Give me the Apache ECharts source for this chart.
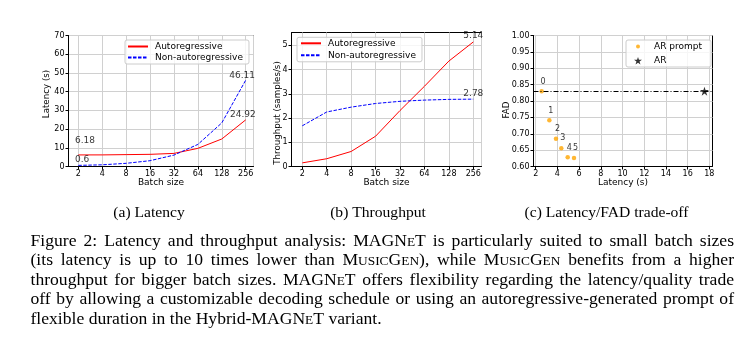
<!DOCTYPE html>
<html>
<head>
<meta charset="utf-8">
<script src="https://cdn.jsdelivr.net/npm/echarts@6.0.0/dist/echarts.min.js"></script>
<style>
html,body{margin:0;padding:0;background:#fff;}
#chart{width:755px;height:348px;}
</style>
</head>
<body>
<div id="chart"></div>
<script>
// ---------------- data ----------------
const batchSizes = [2, 4, 8, 16, 32, 64, 128, 256];
const latencyAR = [6.18, 6.2, 6.35, 6.5, 7.0, 9.7, 14.7, 24.92];
const latencyNAR = [0.6, 0.9, 1.7, 3.1, 6.1, 11.8, 23.3, 46.11];
const throughputAR = [0.15, 0.32, 0.62, 1.25, 2.31, 3.31, 4.35, 5.14];
const throughputNAR = [1.68, 2.25, 2.45, 2.6, 2.69, 2.74, 2.77, 2.78];
const promptLatency = [2.55, 3.26, 3.87, 4.36, 4.95, 5.53];
const promptFAD = [0.830, 0.741, 0.685, 0.656, 0.628, 0.626];
const promptLabels = ['0', '1', '2', '3', '4', '5'];
const arLatency = [17.55];
const arFAD = [0.83];
const fadReference = 0.83;
const seriesNames = ['Autoregressive', 'Non-autoregressive'];
const promptNames = ['AR prompt', 'AR'];
const yTitles = ['Latency (s)', 'Throughput (samples/s)', 'FAD'];
const xTitles = ['Batch size', 'Batch size', 'Latency (s)'];
const subCaptions = ['(a) Latency', '(b) Throughput', '(c) Latency/FAD trade-off'];
const captionLines = [
  'Figure 2: Latency and throughput analysis: MAGN{sc|E}T is particularly suited to small batch sizes',
  '(its latency is up to 10 times lower than M{sc|USIC}G{sc|EN}), while M{sc|USIC}G{sc|EN} benefits from a higher',
  'throughput for bigger batch sizes. MAGN{sc|E}T offers flexibility regarding the latency/quality trade',
  'off by allowing a customizable decoding schedule or using an autoregressive-generated prompt of',
  'flexible duration in the Hybrid-MAGN{sc|E}T variant.'
];

// ---------------- styles ----------------
const SANS = 'DejaVu Sans';
const SERIF = 'Liberation Serif';
const tickFont = {fontFamily: SANS, fontSize: 8, color: '#000'};
const nameFont = {fontFamily: SANS, fontSize: 9, color: '#000'};
const gridLine = {show: true, lineStyle: {color: '#d0d0d0', width: 1}};
const starPath = 'path://M50,0 L61.2,34.5 L97.6,34.5 L68.2,55.9 L79.4,90.5 L50,69.1 L20.6,90.5 L31.8,55.9 L2.4,34.5 L38.8,34.5 Z';

function baseAxis(extra) {
  return Object.assign({
    axisLine: {show: true, onZero: false, lineStyle: {color: '#000', width: 1}},
    axisTick: {show: true, inside: false, length: 3, lineStyle: {color: '#000', width: 1}},
    splitLine: gridLine,
    nameLocation: 'middle',
    nameTextStyle: nameFont
  }, extra);
}
function logBatchAxis(gi, lo, hi) {
  return baseAxis({
    type: 'log', logBase: 2, gridIndex: gi,
    min: Math.pow(2, lo), max: Math.pow(2, hi),
    axisLabel: Object.assign({margin: 3, showMinLabel: false, showMaxLabel: false}, tickFont),
    name: xTitles[gi], nameGap: 12
  });
}

const pairs = (xs, ys) => xs.map((x, i) => [x, ys[i]]);

function annotation(x, y, dx, dy) {
  return {
    value: [x, y],
    label: {show: true, position: [dx + 0.5, dy + 0.5], align: 'left', verticalAlign: 'middle'}
  };
}

function lineSeries(gi, name, ys, color, dashed) {
  return {
    type: 'line', name: name, xAxisIndex: gi, yAxisIndex: gi,
    data: pairs(batchSizes, ys), symbol: 'none', z: 3,
    itemStyle: {color: color},
    lineStyle: {color: color, width: 1, type: dashed ? [3.5, 1.5] : 'solid'}
  };
}

const nL = batchSizes.length - 1;
const annotA = [
  annotation(batchSizes[0], latencyAR[0], -3.3, -14),
  annotation(batchSizes[0], latencyNAR[0], -3.3, -5.3),
  annotation(batchSizes[nL], latencyAR[nL], -15.7, -4.8),
  annotation(batchSizes[nL], latencyNAR[nL], -16.4, -5)
];
const annotB = [
  annotation(batchSizes[nL], throughputAR[nL], -10, -6),
  annotation(batchSizes[nL], throughputNAR[nL], -10, -5)
];
function annotSeries(gi, data) {
  return {
    type: 'scatter', name: '', xAxisIndex: gi, yAxisIndex: gi, data: data,
    symbolSize: 1, itemStyle: {color: 'rgba(0,0,0,0)'}, silent: true, z: 5,
    label: {show: true, formatter: p => String(p.value[1]), fontFamily: SANS, fontSize: 9, color: '#000'}
  };
}

// ---------------- caption (justified, small caps) ----------------
const capSize = 17.6, scSize = capSize * 0.76;
const scShift = 0.3375 * (capSize - scSize);
const mctx = document.createElement('canvas').getContext('2d');
function parseWord(w) {
  const parts = []; const re = /\{sc\|([^}]*)\}/g; let last = 0, m;
  while ((m = re.exec(w))) {
    if (m.index > last) parts.push({sc: false, t: w.slice(last, m.index)});
    parts.push({sc: true, t: m[1]}); last = re.lastIndex;
  }
  if (last < w.length) parts.push({sc: false, t: w.slice(last)});
  let width = 0;
  parts.forEach(p => {
    mctx.font = (p.sc ? scSize : capSize) + 'px "' + SERIF + '"';
    p.w = mctx.measureText(p.t).width;
    width += p.w;
  });
  return {parts, width};
}
const graphics = [];
const capLeft = 30.5, capRight = 734, capY0 = 241, capStep = 19.5;
mctx.font = capSize + 'px "' + SERIF + '"';
const spaceW = mctx.measureText(' ').width;
captionLines.forEach((line, li) => {
  const words = line.split(' ').map(parseWord);
  const total = words.reduce((s, w) => s + w.width, 0);
  const justify = li < captionLines.length - 1;
  const gap = justify ? (capRight - capLeft - total) / (words.length - 1) : spaceW;
  const y = capY0 + li * capStep;
  let x = capLeft;
  words.forEach(w => {
    let sx = x;
    w.parts.forEach(p => {
      graphics.push({type: 'text', x: sx, y: y + (p.sc ? scShift : 0), silent: true,
        style: {text: p.t, fontFamily: SERIF, fontSize: p.sc ? scSize : capSize, fill: '#000',
          align: 'left', verticalAlign: 'middle'}});
      sx += p.w;
    });
    x += w.width + gap;
  });
});
const subCapX = [149, 378, 606.5];
subCaptions.forEach((t, i) => {
  graphics.push({type: 'text', x: subCapX[i], y: 213, silent: true,
    style: {text: t, fontFamily: SERIF, fontSize: 15.6, fill: '#000', align: 'center', verticalAlign: 'middle'}});
});
const yTitlePos = [[47, 94], [277.7, 113], [506.7, 110]];
yTitles.forEach((t, i) => {
  graphics.push({type: 'text', x: yTitlePos[i][0], y: yTitlePos[i][1], rotation: Math.PI / 2, silent: true,
    style: {text: t, fontFamily: SANS, fontSize: 8.7, fill: '#000', align: 'center', verticalAlign: 'middle'}});
});

// ---------------- option ----------------
const legendBox = {backgroundColor: 'rgba(255,255,255,0.8)', borderColor: '#cccccc', borderWidth: 1, borderRadius: 2};
const option = {
  animation: false,
  backgroundColor: '#fff',
  grid: [
    {left: 68.5, top: 35.5, width: 185, height: 131, show: true, borderColor: '#000', borderWidth: 1, backgroundColor: 'transparent'},
    {left: 291.5, top: 32.5, width: 190, height: 134, show: true, borderColor: '#000', borderWidth: 1, backgroundColor: 'transparent'},
    {left: 533.5, top: 35.5, width: 179, height: 131, show: true, borderColor: '#000', borderWidth: 1, backgroundColor: 'transparent'}
  ],
  xAxis: [
    logBatchAxis(0, 0.59, 8.326),
    logBatchAxis(1, 0.558, 8.336),
    baseAxis({type: 'value', gridIndex: 2, min: 1.80, max: 18.29, splitNumber: 8,
      axisTick: {show: true, length: 3, lineStyle: {color: '#000'}, customValues: [2,4,6,8,10,12,14,16,18]},
      axisLabel: Object.assign({margin: 3, showMinLabel: false, showMaxLabel: false}, tickFont),
      name: xTitles[2], nameGap: 12})
  ],
  yAxis: [
    baseAxis({type: 'value', gridIndex: 0, min: 0, max: 70, interval: 10,
      axisLabel: Object.assign({margin: 4}, tickFont)}),
    baseAxis({type: 'value', gridIndex: 1, min: 0, max: 5.53, interval: 1,
      axisTick: {show: true, length: 3, lineStyle: {color: '#000'}, customValues: [0,1,2,3,4,5]},
      axisLabel: Object.assign({margin: 4, showMaxLabel: false}, tickFont)}),
    baseAxis({type: 'value', gridIndex: 2, min: 0.6, max: 1.0, interval: 0.05,
      axisLabel: Object.assign({margin: 4, formatter: v => v.toFixed(2)}, tickFont)})
  ],
  legend: [
    Object.assign({data: seriesNames, left: 125, top: 40, orient: 'vertical', itemWidth: 20, itemHeight: 8, itemGap: 2,
      padding: [2, 6, 2, 2], selectedMode: false, itemStyle: {opacity: 0},
      textStyle: Object.assign({padding: [0, 0, 0, 2]}, nameFont)}, legendBox),
    Object.assign({data: seriesNames, left: 297, top: 37.3, orient: 'vertical', itemWidth: 20, itemHeight: 8, itemGap: 3,
      padding: [1.5, 6, 2, 3], selectedMode: false, itemStyle: {opacity: 0},
      textStyle: Object.assign({padding: [0, 0, 0, 2]}, nameFont)}, legendBox),
    Object.assign({data: [{name: promptNames[0], icon: 'circle'}], left: 626, top: 40, orient: 'vertical', itemWidth: 4, itemHeight: 4,
      padding: [2, 9, 16, 10], selectedMode: false, textStyle: Object.assign({padding: [0, 0, 0, 9]}, nameFont)}, legendBox),
    {data: [{name: promptNames[1], icon: starPath}], left: 634, top: 56.2, orient: 'vertical', itemWidth: 8, itemHeight: 8,
      padding: 0, selectedMode: false, textStyle: Object.assign({padding: [0, 0, 0, 7]}, nameFont)}
  ],
  series: [
    lineSeries(0, seriesNames[0], latencyAR, '#ff0000', false),
    lineSeries(0, seriesNames[1], latencyNAR, '#0000ff', true),
    annotSeries(0, annotA),
    lineSeries(1, seriesNames[0], throughputAR, '#ff0000', false),
    lineSeries(1, seriesNames[1], throughputNAR, '#0000ff', true),
    annotSeries(1, annotB),
    {
      type: 'scatter', name: promptNames[0], xAxisIndex: 2, yAxisIndex: 2,
      data: pairs(promptLatency, promptFAD), symbol: 'circle', symbolSize: 4.5,
      itemStyle: {color: '#ffa500'}, z: 4,
      label: {show: true, formatter: p => promptLabels[p.dataIndex], position: [3.75, -7.5],
        align: 'center', verticalAlign: 'middle', fontFamily: SANS, fontSize: 8, color: '#000'}
    },
    {
      type: 'scatter', name: promptNames[1], xAxisIndex: 2, yAxisIndex: 2,
      data: pairs(arLatency, arFAD), symbol: starPath, symbolSize: 9,
      itemStyle: {color: '#000'}, z: 4,
      markLine: {silent: true, symbol: 'none', label: {show: false},
        lineStyle: {color: '#000', width: 1, type: [5, 2, 1, 2]},
        data: [{yAxis: fadReference}]}
    }
  ],
  graphic: graphics
};
const chart = echarts.init(document.getElementById('chart'), null, {renderer: 'canvas'});
chart.setOption(option);
</script>
</body>
</html>
